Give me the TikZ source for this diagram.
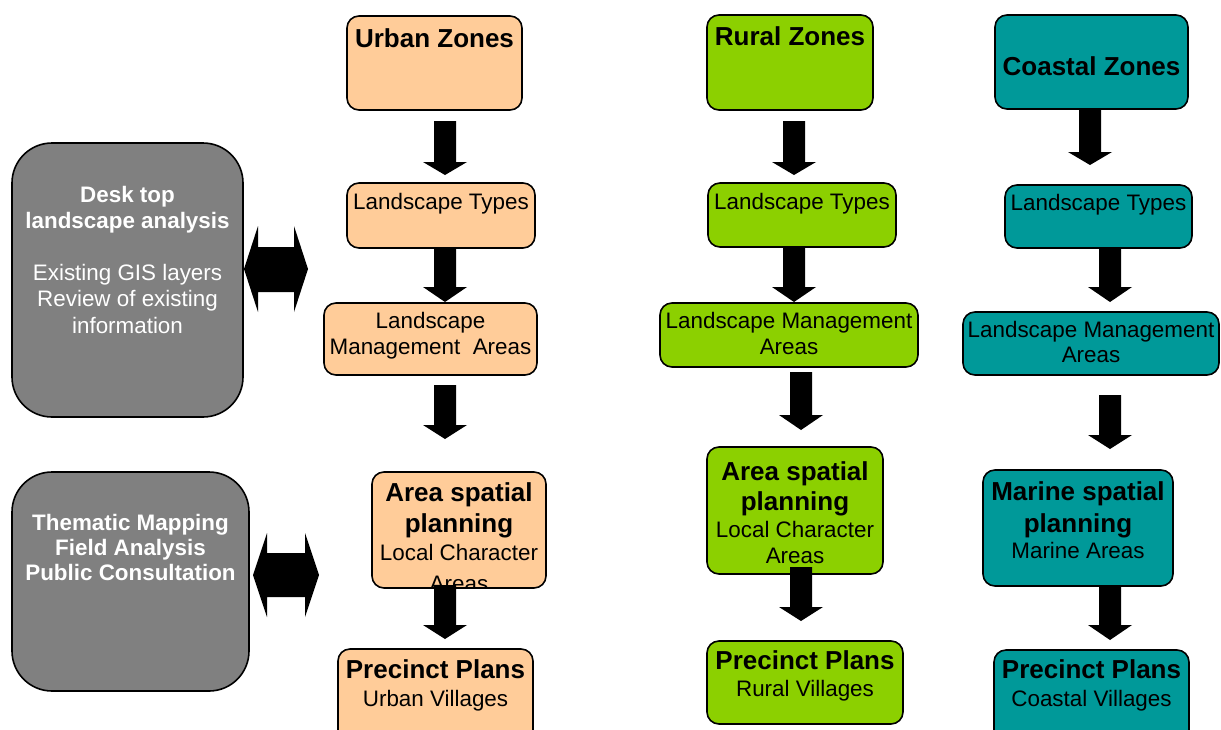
\documentclass[tikz,border=0pt]{standalone}
\usepackage{fontspec}
\setmainfont{Liberation Sans}
\definecolor{peach}{HTML}{FFCC99}
\definecolor{lime}{RGB}{140,208,0}
\definecolor{teal2}{HTML}{009999}
\definecolor{greybox}{HTML}{808080}
\newcommand\zbox[6]{\node[#2, minimum width=#5pt-#3pt, minimum height=#6pt-#4pt] (#1) at ({(#3+#5)/2},{(#4+#6)/2}) {};}
\newcommand\tline[4]{\node[#2, anchor=base] at (#1 |- 0,#3) {#4};}
\newcommand\blkdown[4]{\fill[black] (#1-11,#2) -- (#1+11,#2) -- (#1+11,#3) -- (#1+22,#3) -- (#1,#4) -- (#1-22,#3) -- (#1-11,#3) -- cycle;}
\begin{document}
\begin{tikzpicture}[x=1pt,y=-1pt,
  cbox/.style={draw=black, line width=1.6pt, rounded corners=12pt, inner sep=0pt, outer sep=0pt},
  gbox/.style={draw=black, line width=1.6pt, rounded corners=40pt, fill=greybox, inner sep=0pt, outer sep=0pt},
  hb/.style={font=\fontsize{26}{30}\selectfont\bfseries, inner sep=0pt},
  rg/.style={font=\fontsize{22.4}{26}\selectfont, inner sep=0pt},
  gb/.style={font=\fontsize{22.4}{26}\selectfont\bfseries, text=white, inner sep=0pt},
  gr/.style={font=\fontsize{22.4}{26}\selectfont, text=white, inner sep=0pt}]
\clip (0,0) rectangle (1221,729);
\fill[white] (0,0) rectangle (1221,729);

% grey boxes
\zbox{g1}{gbox}{12}{143}{243}{417}
\zbox{g2}{gbox}{12}{472}{249}{691}
\tline{g1.center}{gb}{202}{Desk top}
\tline{g1.center}{gb}{228}{landscape analysis}
\tline{g1.center}{gr}{280}{Existing GIS layers}
\tline{g1.center}{gr}{306}{Review of existing}
\tline{g1.center}{gr}{333}{information}
\tline{g2.center}{gb}{530}{Thematic Mapping}
\tline{g2.center}{gb}{555}{Field Analysis}
\tline{g2.center}{gb}{580}{Public Consultation}

% urban
\zbox{uz}{cbox,fill=peach}{347}{16}{522}{110}
\zbox{ult}{cbox,fill=peach}{347}{183}{535}{248}
\zbox{ulma}{cbox,fill=peach}{324}{303}{537}{375}
\zbox{uasp}{cbox,fill=peach}{372}{472}{546}{588}
\zbox{upp}{cbox,fill=peach}{338}{649}{533}{760}
\tline{uz.center}{hb}{47}{Urban Zones}
\tline{ult.center}{rg}{209}{Landscape Types}
\tline{ulma.center}{rg}{328}{Landscape}
\tline{ulma.center}{rg}{354}{Management\ \ Areas}
\tline{uasp.center}{hb}{501}{Area spatial}
\tline{uasp.center}{hb}{532}{planning}
\tline{uasp.center}{rg}{560}{Local Character}
\begin{scope}
\clip[rounded corners=12pt] (372,472) rectangle (546,586);
\tline{uasp.center}{rg}{591}{Areas}
\end{scope}
\tline{upp.center}{hb}{678}{Precinct Plans}
\tline{upp.center}{rg}{706}{Urban Villages}

% rural
\zbox{rz}{cbox,fill=lime}{707}{15}{873}{110}
\zbox{rlt}{cbox,fill=lime}{708}{183}{896}{247}
\zbox{rlma}{cbox,fill=lime}{660}{303}{918}{367}
\zbox{rasp}{cbox,fill=lime}{707}{447}{883}{574}
\zbox{rpp}{cbox,fill=lime}{707}{641}{903}{724}
\tline{rz.center}{hb}{45}{Rural Zones}
\tline{rlt.center}{rg}{209}{Landscape Types}
\tline{rlma.center}{rg}{328}{Landscape Management}
\tline{rlma.center}{rg}{354}{Areas}
\tline{rasp.center}{hb}{480}{Area spatial}
\tline{rasp.center}{hb}{510}{planning}
\tline{rasp.center}{rg}{537}{Local Character}
\tline{rasp.center}{rg}{563}{Areas}
\tline{rpp.center}{hb}{669}{Precinct Plans}
\tline{rpp.center}{rg}{696}{Rural Villages}

% coastal
\zbox{cz}{cbox,fill=teal2}{995}{15}{1188}{109}
\zbox{clt}{cbox,fill=teal2}{1005}{185}{1192}{248}
\zbox{clma}{cbox,fill=teal2}{963}{312}{1219}{375}
\zbox{masp}{cbox,fill=teal2}{983}{470}{1173}{586}
\zbox{cpp}{cbox,fill=teal2}{994}{650}{1189}{760}
\tline{cz.center}{hb}{75}{Coastal Zones}
\tline{clt.center}{rg}{210}{Landscape Types}
\tline{clma.center}{rg}{337}{Landscape Management}
\tline{clma.center}{rg}{362}{Areas}
\tline{masp.center}{hb}{500}{Marine spatial}
\tline{masp.center}{hb}{532}{planning}
\tline{masp.center}{rg}{558}{Marine Areas}
\tline{cpp.center}{hb}{678}{Precinct Plans}
\tline{cpp.center}{rg}{706}{Coastal Villages}

% block arrows
\blkdown{445}{121}{162}{175}
\blkdown{445}{248}{287}{302}
\blkdown{445}{385}{425}{439}
\blkdown{445}{585}{625}{639}
\blkdown{794}{121}{162}{175}
\blkdown{794}{247}{287}{302}
\blkdown{801}{372}{415}{430}
\blkdown{801}{567}{607}{621}
\blkdown{1090}{109}{152}{165}
\blkdown{1110}{248}{287}{302}
\blkdown{1110}{395}{435}{449}
\blkdown{1110}{586}{625}{640}

% double arrows
\fill[black] (244,269) -- (258,226) -- (258,247) -- (294,247) -- (294,226) -- (308,269)
  -- (294,312) -- (294,292) -- (258,292) -- (258,312) -- cycle;
\fill[black] (253,575) -- (267,533) -- (267,553) -- (305,553) -- (305,533) -- (319,575)
  -- (305,617) -- (305,597) -- (267,597) -- (267,617) -- cycle;
\end{tikzpicture}
\end{document}
